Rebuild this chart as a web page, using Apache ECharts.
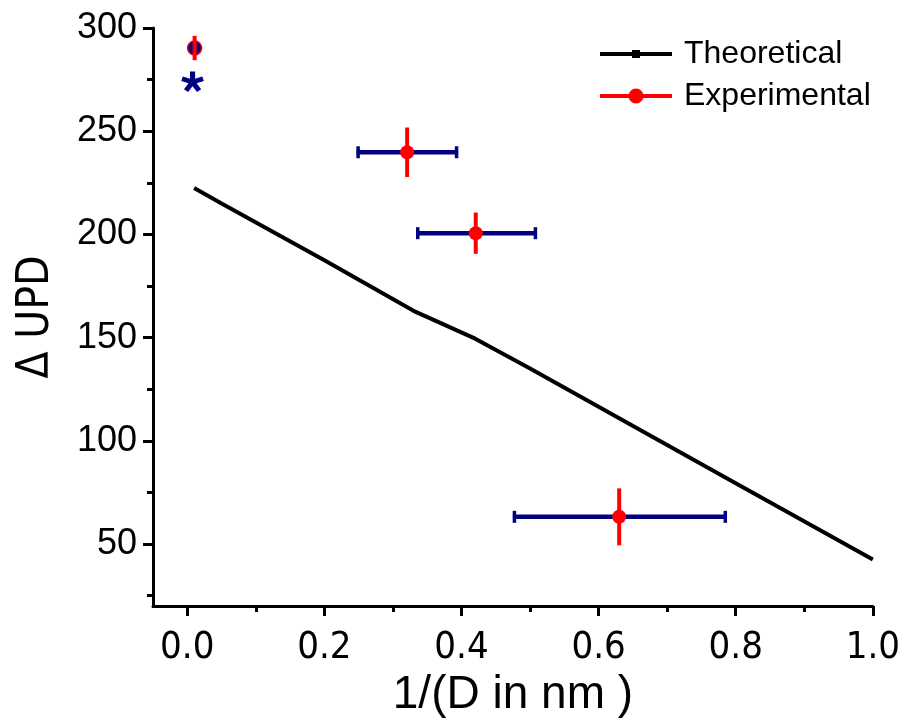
<!DOCTYPE html>
<html>
<head>
<meta charset="utf-8">
<script src="https://cdn.jsdelivr.net/npm/echarts@6/dist/echarts.min.js"></script>
<style>html,body{margin:0;padding:0;background:#fff}#c{width:903px;height:723px}</style>
</head>
<body>
<div id="c"></div>
<script>
// ---- data ----
const theoX = [0.01, 0.05, 0.2, 0.33, 0.42, 0.5, 0.63, 0.8, 1.0];
const theoY = [222.5, 215, 187.5, 163, 149.5, 135, 111, 79.5, 42.5];

const expX = [0.0107, 0.3207, 0.4208, 0.630];
const expY = [290.3, 239.8, 200.6, 63.2];
const expYErr = [5.9, 12, 10, 13.8];
const expXLow = [0.0107, 0.247, 0.334, 0.475];
const expXHigh = [0.0107, 0.395, 0.510, 0.787];

const starX = [0.0077];
const starY = [274.3];

const xTicks = [0, 0.2, 0.4, 0.6, 0.8, 1.0];
const xMinorTicks = [0.1, 0.3, 0.5, 0.7, 0.9];
const yTicks = [50, 100, 150, 200, 250, 300];
const yMinorTicks = [25, 75, 125, 175, 225, 275];

const NAVY = '#000080';
const RED = '#ff0000';
const COND = "'DejaVu Sans Condensed', 'Liberation Sans', sans-serif";
const SANS = "'Liberation Sans', Arial, sans-serif";

const chart = echarts.init(document.getElementById('c'), null, {renderer: 'canvas'});

const hbarData = expX.map((x, i) => [x, expY[i], expXLow[i], expXHigh[i]]);
const vbarData = expX.map((x, i) => [x, expY[i] - expYErr[i], expY[i] + expYErr[i]]);

const theoIcon = 'path://M0 2 H32 V6 H0 Z M32 0 H40 V8 H32 Z M40 2 H72 V6 H40 Z';
const expIcon = 'path://M0 5.5 H29 V9.5 H0 Z M28.5 7.5 A7.5 7.5 0 1 1 43.5 7.5 A7.5 7.5 0 1 1 28.5 7.5 Z M43 5.5 H72 V9.5 H43 Z';

const option = {
  backgroundColor: '#fff',
  animation: false,
  grid: {left: 153, right: 30, top: 28, bottom: 110, containLabel: false},
  legend: {
    left: 600, top: 38, orient: 'vertical', padding: 0,
    itemWidth: 72, itemHeight: 15, itemGap: 10,
    textStyle: {fontFamily: SANS, fontSize: 32, color: '#000', lineHeight: 32, padding: [0, 0, 0, 7]},
    data: [
      {name: 'Theoretical', icon: theoIcon, itemStyle: {color: '#000', borderWidth: 0}},
      {name: 'Experimental', icon: expIcon, itemStyle: {color: RED, borderWidth: 0}}
    ]
  },
  xAxis: [
    {
      type: 'value', min: -0.05, max: 1.0,
      name: '1/(D in nm )', nameLocation: 'middle', nameGap: 66,
      nameTextStyle: {fontFamily: SANS, fontSize: 46, color: '#000'},
      axisLine: {show: true, onZero: false, lineStyle: {color: '#000', width: 3}},
      axisTick: {show: true, customValues: xTicks, length: 10, lineStyle: {color: '#000', width: 3}},
      axisLabel: {customValues: xTicks, margin: 23, formatter: v => v.toFixed(1),
        fontFamily: COND, fontSize: 38, color: '#000'},
      splitLine: {show: false}
    },
    {
      type: 'value', min: -0.05, max: 1.0, position: 'bottom',
      axisLine: {show: false, onZero: false},
      axisTick: {show: true, customValues: xMinorTicks, length: 6, lineStyle: {color: '#000', width: 3}},
      axisLabel: {show: false}, splitLine: {show: false}
    }
  ],
  yAxis: [
    {
      type: 'value', min: 20, max: 300,
      name: 'Δ UPD', nameLocation: 'middle', nameGap: 94,
      nameTextStyle: {fontFamily: COND, fontSize: 44, color: '#000', padding: [0, 0, 0, 0]},
      axisLine: {show: true, onZero: false, lineStyle: {color: '#000', width: 3}},
      axisTick: {show: true, customValues: yTicks, length: 10, lineStyle: {color: '#000', width: 3}},
      axisLabel: {customValues: yTicks, margin: 16, fontFamily: SANS, fontSize: 36, color: '#000'},
      splitLine: {show: false}
    },
    {
      type: 'value', min: 20, max: 300, position: 'left',
      axisLine: {show: false, onZero: false},
      axisTick: {show: true, customValues: yMinorTicks, length: 6, lineStyle: {color: '#000', width: 3}},
      axisLabel: {show: false}, splitLine: {show: false}
    }
  ],
  series: [
    {
      name: 'Theoretical', type: 'line', z: 2,
      data: theoX.map((x, i) => [x, theoY[i]]),
      showSymbol: false, symbol: 'rect',
      lineStyle: {color: '#000', width: 4}, itemStyle: {color: '#000'}
    },
    {
      name: 'xerr', type: 'custom', z: 3,
      data: hbarData, encode: {x: [0, 2, 3], y: 1},
      renderItem: function (params, api) {
        const y = api.value(1), lo = api.value(2), hi = api.value(3);
        if (hi - lo <= 0) return null;
        const pL = api.coord([lo, y]), pR = api.coord([hi, y]);
        const h = 6;
        return {type: 'group', children: [
          {type: 'line', shape: {x1: pL[0], y1: pL[1], x2: pR[0], y2: pR[1]}, style: {stroke: NAVY, lineWidth: 4.5}},
          {type: 'line', shape: {x1: pL[0] + 1.5, y1: pL[1] - h, x2: pL[0] + 1.5, y2: pL[1] + h}, style: {stroke: NAVY, lineWidth: 3.5}},
          {type: 'line', shape: {x1: pR[0] - 1.5, y1: pR[1] - h, x2: pR[0] - 1.5, y2: pR[1] + h}, style: {stroke: NAVY, lineWidth: 3.5}}
        ]};
      }
    },
    {
      name: 'Experimental', type: 'line', z: 4,
      data: expX.map((x, i) => {
        const d = {value: [x, expY[i]]};
        if (i === 0) d.itemStyle = {color: NAVY, borderColor: RED, borderWidth: 1.5};
        return d;
      }),
      symbol: 'circle', symbolSize: 14, showSymbol: true,
      lineStyle: {width: 0, opacity: 0},
      itemStyle: {color: RED}
    },
    {
      name: 'yerr', type: 'custom', z: 5,
      data: vbarData, encode: {x: 0, y: [1, 2]},
      renderItem: function (params, api) {
        const x = api.value(0);
        const pB = api.coord([x, api.value(1)]), pT = api.coord([x, api.value(2)]);
        return {type: 'line', shape: {x1: pB[0], y1: pB[1], x2: pT[0], y2: pT[1]}, style: {stroke: RED, lineWidth: 4}};
      }
    },
    {
      name: 'star', type: 'scatter', z: 6,
      data: starX.map((x, i) => [x, starY[i]]),
      symbol: 'path://M10 10 L10 0 M10 10 L19.5 6.9 M10 10 L0.5 6.9 M10 10 L15.9 18.1 M10 10 L4.1 18.1',
      symbolSize: [21, 20], symbolKeepAspect: true,
      itemStyle: {color: 'rgba(0,0,0,0)', borderColor: NAVY, borderWidth: 5, opacity: 1}
    }
  ]
};
chart.setOption(option);
</script>
</body>
</html>
